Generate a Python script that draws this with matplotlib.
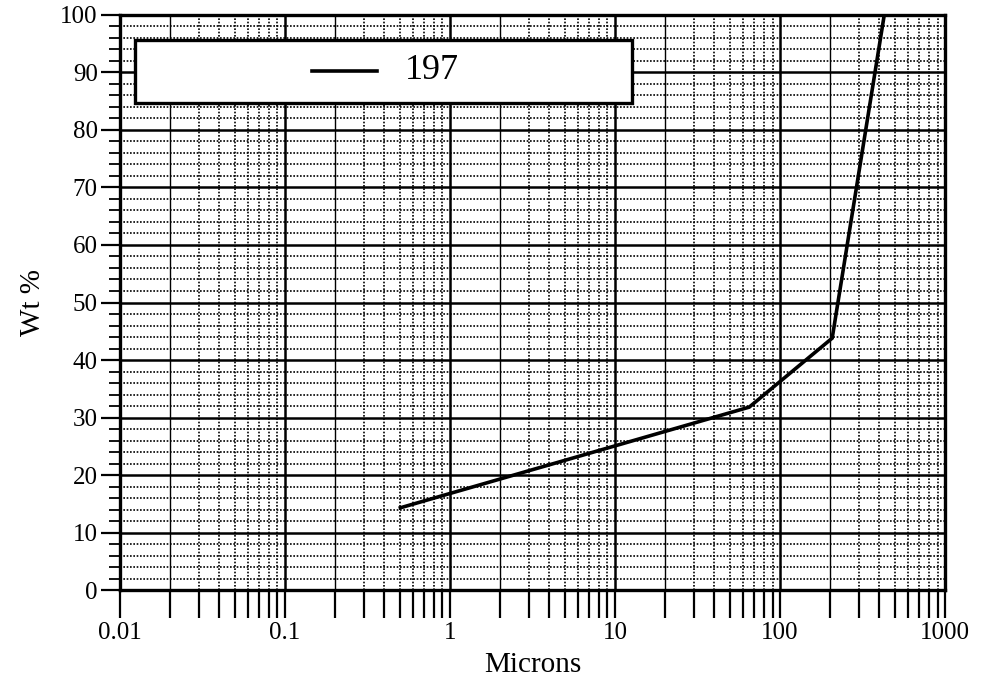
import numpy as np
import matplotlib
matplotlib.use("Agg")
import matplotlib.pyplot as plt
from matplotlib.patches import Rectangle
from matplotlib.lines import Line2D
from matplotlib.ticker import FixedLocator, NullFormatter

# --- data ---
microns = [0.5, 65, 207, 428]
wt_pct = [14.3, 31.8, 43.8, 100]
series_name = "197"

x_ticks = [0.01, 0.1, 1, 10, 100, 1000]
x_labels = ["0.01", "0.1", "1", "10", "100", "1000"]
y_ticks = list(range(0, 101, 10))

plt.rcParams["font.family"] = ["Liberation Serif", "DejaVu Serif"]

fig = plt.figure(figsize=(9.97, 6.81), dpi=100)
ax = fig.add_axes([0.1204, 0.1336, 0.8275, 0.8444])

ax.set_xscale("log")
ax.set_xlim(0.01, 1000)
ax.set_ylim(0, 100)

# graph-paper grid
decades = [0.01, 0.1, 1, 10, 100]
for d in decades:
    for m in range(2, 10):
        if m == 2:
            ax.axvline(d * m, color="black", lw=1.0, zorder=1)
        else:
            ax.axvline(d * m, color="black", lw=1.2, ls=(0, (1, 1)), zorder=1)
for d in x_ticks:
    ax.axvline(d, color="black", lw=1.8, zorder=1)
for v in range(0, 101, 2):
    if v % 10 == 0:
        ax.axhline(v, color="black", lw=1.8, zorder=1)
    else:
        ax.axhline(v, color="black", lw=1.2, ls=(0, (1, 1)), zorder=1)

ax.plot(microns, wt_pct, color="black", lw=2.6, zorder=3,
        solid_joinstyle="miter")

ax.set_xticks(x_ticks)
ax.set_xticklabels(x_labels)
minors = [d * m for d in decades for m in range(2, 10)]
ax.xaxis.set_minor_locator(FixedLocator(minors))
ax.xaxis.set_minor_formatter(NullFormatter())
ax.set_yticks(y_ticks)
ax.yaxis.set_minor_locator(FixedLocator([v for v in range(0, 101, 2) if v % 10]))

ax.tick_params(axis="x", which="both", direction="out", length=20, width=1.6,
               labelsize=18, pad=3)
ax.tick_params(axis="y", which="major", direction="out", length=14, width=1.6,
               labelsize=18, pad=2)
ax.tick_params(axis="y", which="minor", direction="out", length=8, width=1.3)

for s in ax.spines.values():
    s.set_linewidth(2.4)
    s.set_zorder(4)

ax.set_xlabel("Microns", fontsize=21, labelpad=6)
ax.set_ylabel("Wt %", fontsize=21, labelpad=10)

# legend box drawn by hand in axes coordinates
ax.add_patch(Rectangle((0.018, 0.847), 0.603, 0.110, transform=ax.transAxes,
                       facecolor="white", edgecolor="black", lw=2.4,
                       zorder=5, clip_on=False))
ax.add_line(Line2D([0.233, 0.311], [0.903, 0.903], transform=ax.transAxes,
                   color="black", lw=2.6, zorder=6))
ax.text(0.345, 0.903, series_name, transform=ax.transAxes, fontsize=26,
        ha="left", va="center", zorder=6)

fig.savefig("out.png", dpi=100, facecolor="white")
